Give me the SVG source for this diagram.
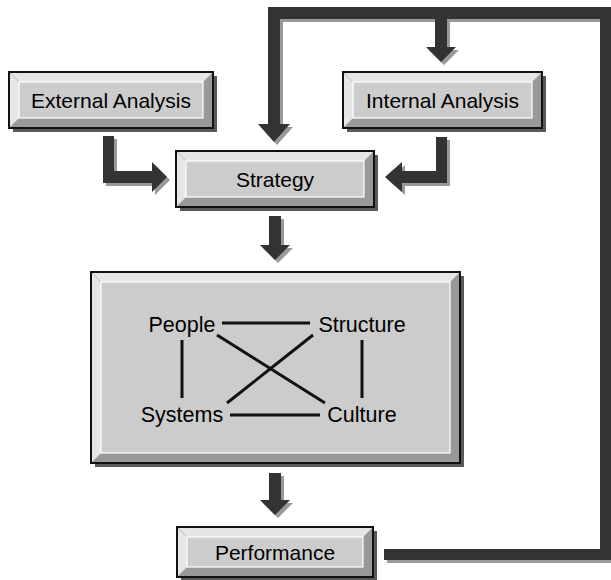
<svg xmlns="http://www.w3.org/2000/svg" width="611" height="580" viewBox="0 0 611 580">
<style>
.shadow{fill:#5a5a5a}
.base{fill:#999}
.light{fill:#e6e6e6}
.face{fill:#cccccc;stroke:#ffffff;stroke-width:1.2}
.border{fill:none;stroke:#111;stroke-width:2}
.miter{stroke:#bbb;stroke-width:1}
.lbl{font-family:"Liberation Sans",Arial,sans-serif;font-size:21px;fill:#000;text-anchor:middle}
.in{font-family:"Liberation Sans",Arial,sans-serif;font-size:21.5px;fill:#000;text-anchor:middle}
.arr{fill:#333}
.arrs{fill:#999}
.link{stroke:#111;stroke-width:3;fill:none}
</style>
<rect width="611" height="580" fill="#fff"/>
<g id="connectors">
  <g transform="translate(3,3)" class="arrs">
    <polygon points="103,136 114,136 114,171 152,171 152,162 167,177 152,192 152,183 103,183"/>
    <polygon points="447,137 436,137 436,171 402,171 402,162 385,177 402,192 402,183 447,183"/>
    <polygon points="269,216 281,216 281,245 290,245 275,260 260,245 269,245"/>
    <polygon points="269,473 281,473 281,500 290,500 275,515 260,500 269,500"/>
    <rect x="384" y="549" width="227" height="11"/>
    <rect x="600" y="7" width="11" height="553"/>
    <rect x="268" y="7" width="343" height="12"/>
    <polygon points="268,7 280,7 280,124 290,124 274,142 258,124 268,124"/>
    <polygon points="435,7 447,7 447,47 456,47 441,62 426,47 435,47"/>
  </g>
  <g class="arr">
    <polygon points="103,136 114,136 114,171 152,171 152,162 167,177 152,192 152,183 103,183"/>
    <polygon points="447,137 436,137 436,171 402,171 402,162 385,177 402,192 402,183 447,183"/>
    <polygon points="269,216 281,216 281,245 290,245 275,260 260,245 269,245"/>
    <polygon points="269,473 281,473 281,500 290,500 275,515 260,500 269,500"/>
    <rect x="384" y="549" width="227" height="11"/>
    <rect x="600" y="7" width="11" height="553"/>
    <rect x="268" y="7" width="343" height="12"/>
    <polygon points="268,7 280,7 280,124 290,124 274,142 258,124 268,124"/>
    <polygon points="435,7 447,7 447,47 456,47 441,62 426,47 435,47"/>
  </g>
</g>
<g id="external">
  <rect class="shadow" x="13" y="76" width="204" height="56"/>
  <rect class="base" x="9" y="72" width="204" height="56"/>
  <polygon class="light" points="9,72 213,72 203,82 19,82 19,118 9,128"/>
  <line class="miter" x1="9" y1="72" x2="19" y2="82"/>
  <rect class="face" x="19" y="82" width="184" height="36"/>
  <rect class="border" x="9" y="72" width="204" height="56"/>
  <text class="lbl" x="111" y="108">External Analysis</text>
</g>
<g id="internal">
  <rect class="shadow" x="347" y="76" width="199" height="56"/>
  <rect class="base" x="343" y="72" width="199" height="56"/>
  <polygon class="light" points="343,72 542,72 532,82 353,82 353,118 343,128"/>
  <line class="miter" x1="343" y1="72" x2="353" y2="82"/>
  <rect class="face" x="353" y="82" width="179" height="36"/>
  <rect class="border" x="343" y="72" width="199" height="56"/>
  <text class="lbl" x="442.5" y="108">Internal Analysis</text>
</g>
<g id="strategy">
  <rect class="shadow" x="180" y="155" width="198" height="56"/>
  <rect class="base" x="176" y="151" width="198" height="56"/>
  <polygon class="light" points="176,151 374,151 364,161 186,161 186,197 176,207"/>
  <line class="miter" x1="176" y1="151" x2="186" y2="161"/>
  <rect class="face" x="186" y="161" width="178" height="36"/>
  <rect class="border" x="176" y="151" width="198" height="56"/>
  <text class="lbl" x="275" y="187">Strategy</text>
</g>
<g id="organization">
  <rect class="shadow" x="95" y="276" width="369" height="191"/>
  <rect class="base" x="91" y="272" width="369" height="191"/>
  <polygon class="light" points="91,272 460,272 450,282 101,282 101,453 91,463"/>
  <line class="miter" x1="91" y1="272" x2="101" y2="282"/>
  <rect class="face" x="101" y="282" width="349" height="171"/>
  <rect class="border" x="91" y="272" width="369" height="191"/>
  <g id="links">
    <line class="link" x1="222" y1="323" x2="310" y2="323"/>
    <line class="link" x1="230" y1="415" x2="320" y2="415"/>
    <line class="link" x1="182" y1="340" x2="182" y2="398"/>
    <line class="link" x1="362" y1="340" x2="362" y2="398"/>
    <line class="link" x1="217" y1="335" x2="325" y2="403"/>
    <line class="link" x1="313" y1="335" x2="227" y2="403"/>
  </g>
  <text class="in" x="182" y="332">People</text>
  <text class="in" x="362" y="332">Structure</text>
  <text class="in" x="182" y="422">Systems</text>
  <text class="in" x="362" y="422">Culture</text>
</g>
<g id="performance">
  <rect class="shadow" x="181" y="531" width="196" height="50"/>
  <rect class="base" x="177" y="527" width="196" height="50"/>
  <polygon class="light" points="177,527 373,527 363,537 187,537 187,567 177,577"/>
  <line class="miter" x1="177" y1="527" x2="187" y2="537"/>
  <rect class="face" x="187" y="537" width="176" height="30"/>
  <rect class="border" x="177" y="527" width="196" height="50"/>
  <text class="lbl" x="275" y="560">Performance</text>
</g>
</svg>
